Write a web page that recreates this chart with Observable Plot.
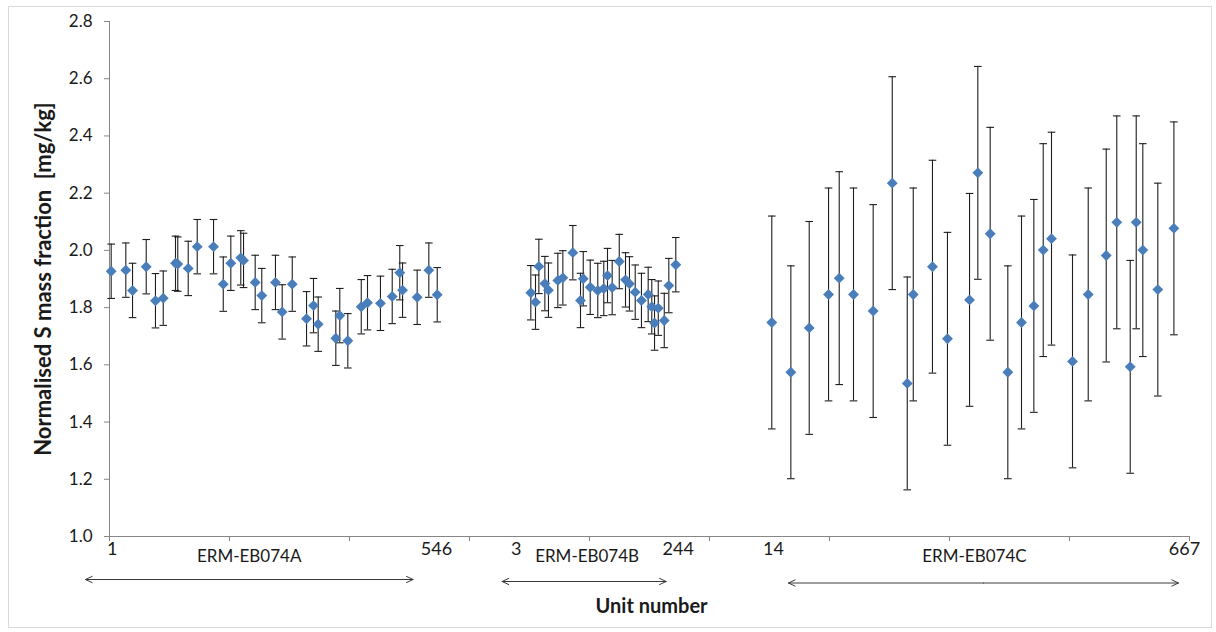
<!DOCTYPE html>
<html>
<head>
<meta charset="utf-8">
<script src="https://cdn.jsdelivr.net/npm/d3@7"></script>
<script src="https://cdn.jsdelivr.net/npm/@observablehq/plot@0.6"></script>
<style>
  body { margin: 0; background: #fff; }
  #chart { position: relative; width: 1216px; height: 632px; }
  #chart .border { position: absolute; left: 8px; top: 6px; width: 1202px; height: 620px; border: 1px solid #d9d9d9; pointer-events: none; }
</style>
</head>
<body>
<div id="chart"><div class="border"></div></div>
<script>
// Position of each unit along the shared unit axis (axis runs 0–900)
const posA = [1.4, 13.6, 19.2, 30.6, 38.3, 44.8, 55, 56.9, 65.6, 73.1, 86.7, 94.8, 101.1, 109.4, 111.7, 121.4, 126.9, 138.3, 143.9, 152.3, 164.2, 170, 173.9, 188.6, 191.9, 198.6, 209.8, 215, 225.8, 235.6, 241.9, 244.2, 256.4, 266.1, 273.1];
const posB = [351.1, 355, 357.8, 362.8, 365.8, 373.6, 377.8, 386.1, 392.5, 394.8, 400.6, 406.9, 411.9, 415, 418.9, 424.8, 430, 433.3, 438.1, 443.3, 448.9, 451.9, 454.2, 457.3, 462.3, 466.1, 471.9];
const posC = [551.9, 567.8, 583.1, 599.2, 608.1, 620, 636.4, 652.3, 664.8, 669.8, 685.8, 698.3, 716.7, 723.6, 733.9, 748.6, 760, 770.3, 778.1, 785, 802.5, 815.6, 830.6, 839.4, 850.6, 855.6, 861.1, 873.6, 887];

// Normalised S mass fraction [mg/kg]
const valA = [1.927, 1.931, 1.860, 1.943, 1.824, 1.833, 1.955, 1.952, 1.937, 2.013, 2.013, 1.882, 1.955, 1.974, 1.965, 1.888, 1.842, 1.888, 1.785, 1.882, 1.761, 1.807, 1.742, 1.693, 1.772, 1.684, 1.803, 1.817, 1.815, 1.839, 1.922, 1.861, 1.836, 1.931, 1.845];
const valB = [1.852, 1.819, 1.944, 1.884, 1.861, 1.895, 1.904, 1.992, 1.825, 1.901, 1.871, 1.860, 1.867, 1.912, 1.870, 1.961, 1.897, 1.883, 1.854, 1.825, 1.846, 1.803, 1.746, 1.798, 1.755, 1.877, 1.950];
const valC = [1.748, 1.574, 1.729, 1.846, 1.903, 1.846, 1.788, 2.235, 1.535, 1.846, 1.943, 1.691, 1.827, 2.271, 2.058, 1.574, 1.748, 1.806, 2.001, 2.041, 1.612, 1.846, 1.982, 2.098, 1.593, 2.098, 2.001, 1.863, 2.077];

// Uncertainty (half-width of the error bars) for each material
const groupNames = ["ERM-EB074A", "ERM-EB074B", "ERM-EB074C"];
const groupU = [0.095, 0.095, 0.372];

// First and last unit number of each material
const unitLabels = ["1", "546", "3", "244", "14", "667"];

// Axis ticks
const yTicks = [1.0, 1.2, 1.4, 1.6, 1.8, 2.0, 2.2, 2.4, 2.6, 2.8];
const xTicks = [0, 100, 200, 300, 400, 500, 600, 700, 800, 900];

// Annotation layout along the unit axis
const unitLabelX = [2.2, 272.5, 338.9, 473.9, 553.3, 895.8];
const groupNameX = [116.4, 398, 720.8];
const spanX = [[-20, 253], [327.2, 463.9], [565.8, 890.8]];
const spanDy = [43, 45, 46.5];

const rows = [];
[[posA, valA], [posB, valB], [posC, valC]].forEach(([pos, val], g) => {
  pos.forEach((p, i) => rows.push({group: groupNames[g], pos: p, v: val[i], u: groupU[g]}));
});

// Horizontal cap used on the error-bar ends
const cap = {
  draw(context, size) {
    const w = Math.sqrt(size / Math.PI);
    context.moveTo(-w, 0);
    context.lineTo(w, 0);
  }
};

const axisGrey = "#868686";
const ink = "#1a1a1a";
const barInk = "#1e1e1e";

const spanMarks = spanX.flatMap((s, i) => {
  const mid = (s[0] + s[1]) / 2;
  const opts = {y1: () => 1, y2: () => 1, dy: spanDy[i], stroke: "#3a3a3a", strokeWidth: 1, headLength: 11, headAngle: 50};
  return [
    Plot.arrow([s], {...opts, x1: () => mid, x2: d => d[0]}),
    Plot.arrow([s], {...opts, x1: () => mid, x2: d => d[1]})
  ];
});

const chart = Plot.plot({
  width: 1216,
  height: 632,
  marginLeft: 109,
  marginRight: 27,
  marginTop: 21,
  marginBottom: 96,
  style: {fontFamily: "Lato, 'Open Sans', sans-serif", fontSize: "16px", color: ink, background: "transparent", overflow: "visible"},
  x: {domain: [0, 900]},
  y: {domain: [1, 2.8]},
  marks: [
    Plot.axisY({ticks: yTicks, tickFormat: d3.format(".1f"), tickSize: 5, tickPadding: 12, stroke: axisGrey, fill: ink, fontSize: 17, label: null}),
    Plot.axisX({ticks: xTicks, tickFormat: () => "", tickSize: 5, stroke: axisGrey, label: null}),
    Plot.ruleY([1], {stroke: axisGrey}),
    Plot.ruleX([0], {stroke: axisGrey}),
    // error bars
    Plot.ruleX(rows, {x: "pos", y1: d => d.v - d.u, y2: d => d.v + d.u, stroke: barInk, strokeWidth: 1.1}),
    Plot.dot(rows, {x: "pos", y: d => d.v + d.u, symbol: cap, r: 3.8, stroke: barInk, strokeWidth: 1.1, fill: "none"}),
    Plot.dot(rows, {x: "pos", y: d => d.v - d.u, symbol: cap, r: 3.8, stroke: barInk, strokeWidth: 1.1, fill: "none"}),
    // measured values
    Plot.dot(rows, {x: "pos", y: "v", symbol: "diamond2", r: 4.9, fill: "#4a7ebb", stroke: "none"}),
    // unit-number annotations below the axis
    Plot.text(unitLabels, {x: (d, i) => unitLabelX[i], text: d => d, frameAnchor: "bottom", dy: 18.5, fontSize: 18, fill: ink}),
    Plot.text(groupNames, {x: (d, i) => groupNameX[i], text: d => d, frameAnchor: "bottom", dy: 25, fontSize: 17, fill: ink}),
    ...spanMarks,
    Plot.text(["Unit number"], {x: () => 451.7, text: d => d, frameAnchor: "bottom", dy: 76, fontSize: 20, fontWeight: "bold", fill: ink}),
    Plot.text(["Normalised S mass fraction  [mg/kg]"], {text: d => d, frameAnchor: "left", textAnchor: "middle", dx: -66, rotate: -90, fontSize: 22, fontWeight: "bold", fill: ink})
  ]
});

document.getElementById("chart").prepend(chart);
</script>
</body>
</html>
